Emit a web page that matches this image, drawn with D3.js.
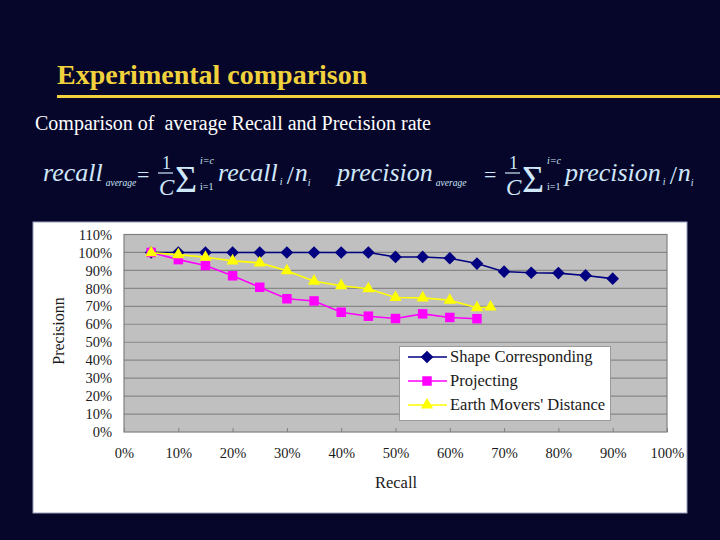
<!DOCTYPE html>
<html><head><meta charset="utf-8">
<script src="https://cdn.jsdelivr.net/npm/d3@7"></script>
<style>
html,body{margin:0;padding:0;background:#06062a;}
svg{display:block;}
text{font-family:"Liberation Serif","Times New Roman",serif;}
</style></head>
<body>
<script>
// ---- data ----
const title = "Experimental comparison";
const subtitle = "Comparison of  average Recall and Precision rate";
const seriesNames = ["Shape Corresponding", "Projecting", "Earth Movers' Distance"];
const recallSC = [5,10,15,20,25,30,35,40,45,50,55,60,65,70,75,80,85,90];
const precSC   = [100,100,100,100,100,100,100,100,100,97.5,97.5,96.8,93.8,89.3,88.7,88.5,87.2,85.4];
const recallPR = [5,10,15,20,25,30,35,40,45,50,55,60,65];
const precPR   = [100,96,92.7,87,80.6,74.2,73,66.7,64.5,63.2,65.8,63.8,63.1];
const recallEMD = [5,10,15,20,25,30,35,40,45,50,55,60,65,67.5];
const precEMD   = [99.8,98.8,97.3,95.3,94.2,89.8,84,81.5,79.8,74.9,74.7,73.4,69.2,69.6];
const xTicks = [0,10,20,30,40,50,60,70,80,90,100];
const yTicks = [0,10,20,30,40,50,60,70,80,90,100,110];
const colors = ["#000080", "#ff00ff", "#ffff00"];

const W = 720, H = 540;
const svg = d3.select("body").append("svg").attr("width", W).attr("height", H);
svg.append("rect").attr("width", W).attr("height", H).attr("fill", "#06062a");

// title
svg.append("text").attr("x", 57).attr("y", 84).attr("fill", "#f2d23c")
  .attr("font-size", 28).attr("font-weight", "bold").text(title);
svg.append("line").attr("x1", 57).attr("x2", 720).attr("y1", 96.5).attr("y2", 96.5)
  .attr("stroke", "#f2d23c").attr("stroke-width", 3);
svg.append("text").attr("x", 35).attr("y", 130).attr("fill", "#ffffff")
  .attr("font-size", 20).style("white-space", "pre").text(subtitle);

// formulas
const fc = "#cfe8fa";
function formula(g, word, x0, eqX) {
  const t = (x, y, s, size, italic) => g.append("text").attr("x", x).attr("y", y)
    .attr("fill", fc).attr("font-size", size).attr("font-style", italic ? "italic" : "normal").text(s);
  const w1 = t(x0, 181, word, 26, true);
  const e1 = x0 + w1.node().getComputedTextLength();
  t(e1 + 3, 186, "average", 9.5, true);
  t(eqX, 182, "=", 22, false);
  const one = eqX + 22;
  t(one + 3, 169, "1", 18, false);
  g.append("line").attr("x1", one - 1).attr("x2", one + 14).attr("y1", 173).attr("y2", 173)
    .attr("stroke", fc).attr("stroke-width", 1.2);
  t(one, 195, "C", 23, true);
  const sig = one + 16;
  t(sig, 192, "\u03A3", 38, false);
  t(sig + 25, 164, "i=c", 10, true);
  t(sig + 25, 190, "i=1", 10, false);
  const w2x = sig + 43;
  const w2 = t(w2x, 181, word, 26, true);
  const e2 = w2x + w2.node().getComputedTextLength();
  t(e2 + 2, 185, "i", 10, true);
  t(e2 + 9, 184, "/", 26, false);
  t(e2 + 17, 181, "n", 26, true);
  t(e2 + 30, 186, "i", 10, true);
}
const fg = svg.append("g");
formula(fg, "recall", 43, 137);
formula(fg, "precision", 337, 484);

// chart panel
svg.append("rect").attr("x", 33).attr("y", 222).attr("width", 654).attr("height", 291)
  .attr("fill", "#ffffff").attr("stroke", "#9aa0b8").attr("stroke-width", 1);

const x = d3.scaleLinear().domain([0, 100]).range([124, 667]);
const y = d3.scaleLinear().domain([0, 110]).range([432, 234.5]);

svg.append("rect").attr("x", x(0)).attr("y", y(110)).attr("width", x(100) - x(0))
  .attr("height", y(0) - y(110)).attr("fill", "#c0c0c0");

// gridlines
svg.append("g").selectAll("line").data(yTicks.filter(d => d > 0 && d < 110)).join("line")
  .attr("x1", x(0)).attr("x2", x(100)).attr("y1", d => y(d)).attr("y2", d => y(d))
  .attr("stroke", "#878787").attr("stroke-width", 1.2);

// axes
const yAxis = d3.axisLeft(y).tickValues(yTicks).tickFormat(d => d + "%").tickSize(0).tickPadding(12);
const gy = svg.append("g").attr("transform", `translate(${x(0)},0)`).call(yAxis);
gy.select(".domain").remove();
gy.selectAll("text").attr("font-size", 14.5).attr("fill", "#1a1a1a")
  .attr("font-family", "Liberation Serif, serif");

const xAxis = d3.axisBottom(x).tickValues(xTicks).tickFormat(d => d + "%").tickSize(-4).tickPadding(16);
const gx = svg.append("g").attr("transform", `translate(0,${y(0)})`).call(xAxis);
gx.select(".domain").remove();
gx.selectAll("line").attr("stroke", "#808080");
gx.selectAll("text").attr("font-size", 14.5).attr("fill", "#1a1a1a")
  .attr("font-family", "Liberation Serif, serif");

svg.append("rect").attr("x", x(0)).attr("y", y(110)).attr("width", x(100) - x(0))
  .attr("height", y(0) - y(110)).attr("fill", "none").attr("stroke", "#808080").attr("stroke-width", 1.2);

// axis titles
svg.append("text").attr("transform", `translate(64,331) rotate(-90)`).attr("text-anchor", "middle")
  .attr("font-size", 16).attr("fill", "#1a1a1a").text("Precisionn");
svg.append("text").attr("x", 396).attr("y", 488).attr("text-anchor", "middle")
  .attr("font-size", 16.5).attr("fill", "#1a1a1a").text("Recall");

// series
const series = [
  {xs: recallSC, ys: precSC, sym: d3.symbolSquare, size: 80, rot: 45},
  {xs: recallPR, ys: precPR, sym: d3.symbolSquare, size: 90, rot: 0},
  {xs: recallEMD, ys: precEMD, sym: d3.symbolTriangle, size: 65, rot: 0}
];
const line = d3.line().x(d => x(d[0])).y(d => y(d[1]));
series.forEach((s, i) => {
  const pts = s.xs.map((v, k) => [v, s.ys[k]]);
  svg.append("path").datum(pts).attr("d", line).attr("fill", "none")
    .attr("stroke", colors[i]).attr("stroke-width", 1.6);
  svg.append("g").selectAll("path").data(pts).join("path")
    .attr("transform", d => `translate(${x(d[0])},${y(d[1])}) rotate(${s.rot})`)
    .attr("d", d3.symbol().type(s.sym).size(s.size)).attr("fill", colors[i]);
});

// legend
const lg = svg.append("g");
lg.append("rect").attr("x", 399.5).attr("y", 346.5).attr("width", 211).attr("height", 74)
  .attr("fill", "#ffffff").attr("stroke", "#9a9a9a").attr("stroke-width", 1);
seriesNames.forEach((n, i) => {
  const yy = 357 + i * 24;
  lg.append("line").attr("x1", 408).attr("x2", 447).attr("y1", yy).attr("y2", yy)
    .attr("stroke", colors[i]).attr("stroke-width", 1.6);
  lg.append("path").attr("transform", `translate(427,${yy}) rotate(${series[i].rot})`)
    .attr("d", d3.symbol().type(series[i].sym).size(series[i].size)).attr("fill", colors[i]);
  lg.append("text").attr("x", 450).attr("y", yy + 5).attr("font-size", 16.5)
    .attr("fill", "#1a1a1a").text(n);
});
</script>
</body></html>
